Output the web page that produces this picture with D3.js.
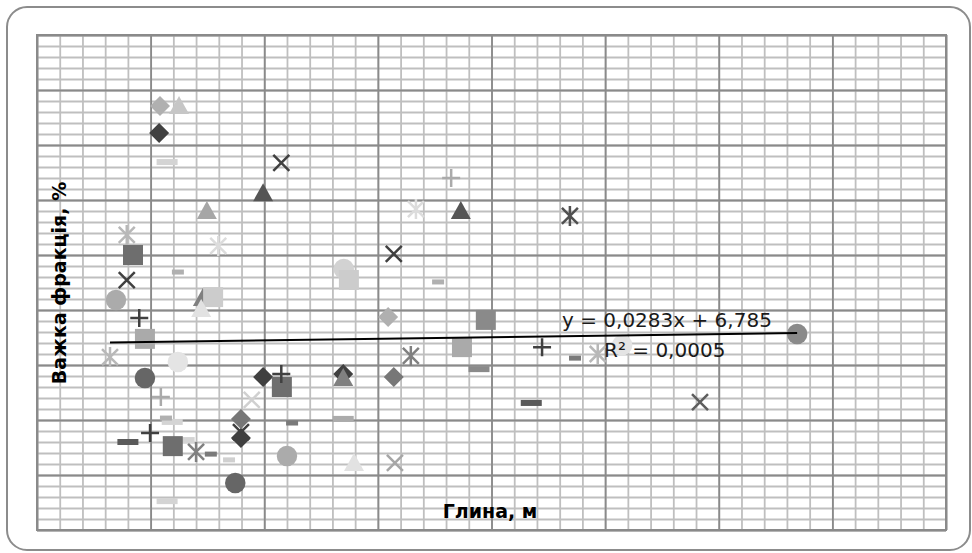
<!DOCTYPE html>
<html>
<head>
<meta charset="utf-8">
<script src="https://cdn.jsdelivr.net/npm/d3@7"></script>
<style>
  html, body { margin: 0; padding: 0; background: #ffffff; }
  svg { display: block; }
</style>
</head>
<body>
<svg id="chart" width="972" height="553"></svg>
<script>
// Axis ranges and grid steps
const xDomain = [0, 16];
const yDomain = [0, 18];
const majorStep = 2;
const minorStep = 0.4;

// Linear trend stated on the chart
const trendSlope = 0.0283;
const trendIntercept = 6.785;
const trendLabel = "y = 0,0283x + 6,785";
const r2Label = "R² = 0,0005";

const xTitle = "Глина, м";
const yTitle = "Важка фракція, %";

// Observations per series: [глина, важка фракція]
const diamondDark   = [[2.15, 14.44], [3.98, 5.56], [5.39, 5.67], [3.59, 3.35]];
const diamondMid    = [[3.59, 4.04], [6.28, 5.56]];
const diamondLight  = [[2.165, 15.42], [6.18, 7.75]];

const squareDark    = [[4.31, 5.20], [2.39, 3.05], [1.69, 10.0]];
const squareMid     = [[7.90, 7.64]];
const squareLight   = [[1.90, 6.95], [7.48, 6.65]];
const squarePale    = [[3.10, 8.47], [5.49, 9.09]];

const triDark       = [[3.98, 12.25], [7.46, 11.60]];
const triMid        = [[2.92, 8.44], [5.39, 5.53]];
const triLight      = [[2.99, 11.60]];
const triLighter    = [[2.50, 15.42]];
const triPale       = [[2.89, 8.04], [5.58, 2.44]];

const crossDark     = [[4.30, 13.35], [6.28, 10.04], [1.58, 9.09], [3.59, 3.56]];
const crossMid      = [[11.67, 4.65]];
const crossLight    = [[6.30, 2.44]];
const crossPale     = [[3.78, 4.73]];

const starDark      = [[9.38, 11.42]];
const starMid       = [[6.58, 6.33], [2.80, 2.84]];
const starLight     = [[1.58, 10.73], [1.285, 6.29], [9.87, 6.40]];
const starPale      = [[6.67, 11.67], [3.19, 10.33]];

const circleDark    = [[1.90, 5.53], [3.49, 1.71]];
const circleMid     = [[13.38, 7.13]];
const circleLight   = [[1.39, 8.36], [4.40, 2.69]];
const circlePale    = [[5.40, 9.49]];
const circleWhite   = [[2.48, 6.11], [10.30, 6.73]];

const plusDark      = [[1.80, 7.71], [8.89, 6.65], [4.30, 5.67], [1.99, 3.53]];
const plusLight     = [[7.29, 12.80], [2.18, 4.84]];

const dashDark      = [[8.70, 4.62], [1.60, 3.20]];
const dashMid       = [[7.78, 5.85]];
const dashLight     = [[5.39, 4.04]];
const dashPale      = [[2.29, 1.05], [2.29, 13.38], [2.59, 3.27], [2.38, 3.93]];
const barMid        = [[9.47, 6.25], [4.49, 3.89], [3.06, 2.76]];
const barLight      = [[7.06, 9.02], [2.48, 9.38], [2.27, 4.07]];
const barPale       = [[3.38, 2.55]];

// Drawing order, marker kind and shade for each series
const seriesList = [
  { data: dashPale,     kind: "dash",     color: "#d4d4d4" },
  { data: dashLight,    kind: "dash",     color: "#ababab" },
  { data: dashMid,      kind: "dash",     color: "#8a8a8a" },
  { data: dashDark,     kind: "dash",     color: "#5a5a5a" },
  { data: barPale,      kind: "bar",      color: "#d0d0d0" },
  { data: barLight,     kind: "bar",      color: "#b0b0b0" },
  { data: barMid,       kind: "bar",      color: "#7a7a7a" },
  { data: circleWhite,  kind: "circle",   color: "#e4e4e4" },
  { data: circlePale,   kind: "circle",   color: "#d2d2d2" },
  { data: circleLight,  kind: "circle",   color: "#ababab" },
  { data: circleMid,    kind: "circle",   color: "#8a8a8a" },
  { data: circleDark,   kind: "circle",   color: "#666666" },
  { data: diamondLight, kind: "diamond",  color: "#b0b0b0" },
  { data: diamondMid,   kind: "diamond",  color: "#777777" },
  { data: diamondDark,  kind: "diamond",  color: "#404040" },
  { data: triMid,       kind: "triangle", color: "#808080" },
  { data: squarePale,   kind: "square",   color: "#cccccc" },
  { data: squareLight,  kind: "square",   color: "#aaaaaa" },
  { data: squareMid,    kind: "square",   color: "#8a8a8a" },
  { data: squareDark,   kind: "square",   color: "#6e6e6e" },
  { data: triPale,      kind: "triangle", color: "#e2e2e2" },
  { data: triLighter,   kind: "triangle", color: "#c6c6c6" },
  { data: triLight,     kind: "triangle", color: "#a6a6a6" },
  { data: triDark,      kind: "triangle", color: "#555555" },
  { data: starPale,     kind: "star",     color: "#dcdcdc" },
  { data: starLight,    kind: "star",     color: "#b8b8b8" },
  { data: starMid,      kind: "star",     color: "#808080" },
  { data: starDark,     kind: "star",     color: "#505050" },
  { data: crossPale,    kind: "cross",    color: "#d0d0d0" },
  { data: crossLight,   kind: "cross",    color: "#a6a6a6" },
  { data: crossMid,     kind: "cross",    color: "#5e5e5e" },
  { data: crossDark,    kind: "cross",    color: "#404040" },
  { data: plusLight,    kind: "plus",     color: "#aaaaaa" },
  { data: plusDark,     kind: "plus",     color: "#404040" }
];

const svg = d3.select("#chart");
const plot = { left: 37, top: 35, right: 946, bottom: 530 };

// Chart area frame
svg.append("rect")
  .attr("x", 7).attr("y", 7)
  .attr("width", 963).attr("height", 543)
  .attr("rx", 20).attr("ry", 20)
  .attr("fill", "#ffffff")
  .attr("stroke", "#8c8c8c")
  .attr("stroke-width", 2);

const x = d3.scaleLinear().domain(xDomain).range([plot.left, plot.right]);
const y = d3.scaleLinear().domain(yDomain).range([plot.bottom, plot.top]);

const stepsOf = (dom, step) => d3.range(0, Math.round((dom[1] - dom[0]) / step) + 1)
  .map(i => +(dom[0] + i * step).toFixed(6));

const xMinor = stepsOf(xDomain, minorStep);
const yMinor = stepsOf(yDomain, minorStep);
const xMajor = stepsOf(xDomain, majorStep);
const yMajor = stepsOf(yDomain, majorStep);

const pw = plot.right - plot.left, ph = plot.bottom - plot.top;

function gridLayer(cls, xVals, yVals, color, width) {
  const gx = svg.append("g").attr("class", cls + "-x")
    .attr("transform", `translate(0,${plot.bottom})`)
    .call(d3.axisBottom(x).tickValues(xVals).tickSize(-ph).tickFormat(""));
  const gy = svg.append("g").attr("class", cls + "-y")
    .attr("transform", `translate(${plot.left},0)`)
    .call(d3.axisLeft(y).tickValues(yVals).tickSize(-pw).tickFormat(""));
  [gx, gy].forEach(g => {
    g.select(".domain").remove();
    g.selectAll(".tick line").attr("stroke", color).attr("stroke-width", width);
  });
}

gridLayer("minor", xMinor, yMinor, "#bfbfbf", 1.8);
gridLayer("major", xMajor, yMajor, "#8a8a8a", 1.8);

// Plot area outline
svg.append("rect")
  .attr("x", plot.left).attr("y", plot.top)
  .attr("width", pw).attr("height", ph)
  .attr("fill", "none").attr("stroke", "#8a8a8a").attr("stroke-width", 2);

// Marker shapes
const symbolPath = {
  circle:   d3.symbol().type(d3.symbolCircle).size(330)(),
  square:   d3.symbol().type(d3.symbolSquare).size(400)(),
  diamond:  "M0,-10L10,0L0,10L-10,0Z",
  triangle: "M0,-10L10,8L-10,8Z"
};

const marks = svg.append("g").attr("class", "marks");

seriesList.forEach(s => {
  const g = marks.append("g");
  s.data.forEach(([dx, dy]) => {
    const m = g.append("g").attr("transform", `translate(${x(dx)},${y(dy)})`);
    if (s.kind in symbolPath) {
      m.append("path").attr("d", symbolPath[s.kind]).attr("fill", s.color);
    } else if (s.kind === "dash") {
      m.append("rect").attr("x", -10.5).attr("y", -3).attr("width", 21).attr("height", 6)
        .attr("fill", s.color);
    } else if (s.kind === "bar") {
      m.append("rect").attr("x", -6).attr("y", -2.5).attr("width", 12).attr("height", 5)
        .attr("fill", s.color);
    } else {
      let d = "";
      if (s.kind === "cross" || s.kind === "star") d += "M-8,-8L8,8M-8,8L8,-8";
      if (s.kind === "star") d += "M0,-10L0,10";
      if (s.kind === "plus") d += "M-9,0L9,0M0,-9L0,9";
      m.append("path").attr("d", d).attr("fill", "none")
        .attr("stroke", s.color).attr("stroke-width", 2.5);
    }
  });
});

// Trend line over the observed range
const allX = seriesList.flatMap(s => s.data.map(p => p[0]));
const [xMin, xMax] = d3.extent(allX);
svg.append("line")
  .attr("x1", x(xMin)).attr("y1", y(trendIntercept + trendSlope * xMin))
  .attr("x2", x(xMax)).attr("y2", y(trendIntercept + trendSlope * xMax))
  .attr("stroke", "#000000").attr("stroke-width", 2);

const labelFont = "'DejaVu Sans', sans-serif";
svg.append("text")
  .attr("x", 562).attr("y", 327)
  .attr("font-family", labelFont).attr("font-size", 20)
  .attr("fill", "#1a1a1a")
  .text(trendLabel);
svg.append("text")
  .attr("x", 604).attr("y", 357)
  .attr("font-family", labelFont).attr("font-size", 20)
  .attr("fill", "#1a1a1a")
  .text(r2Label);

// Axis titles
svg.append("text")
  .attr("x", 490).attr("y", 518)
  .attr("text-anchor", "middle")
  .attr("font-family", labelFont).attr("font-size", 19).attr("font-weight", "bold")
  .attr("fill", "#000000")
  .text(xTitle);

svg.append("text")
  .attr("transform", "translate(66,283) rotate(-90)")
  .attr("text-anchor", "middle")
  .attr("font-family", labelFont).attr("font-size", 19).attr("font-weight", "bold")
  .attr("fill", "#000000")
  .text(yTitle);
</script>
</body>
</html>
